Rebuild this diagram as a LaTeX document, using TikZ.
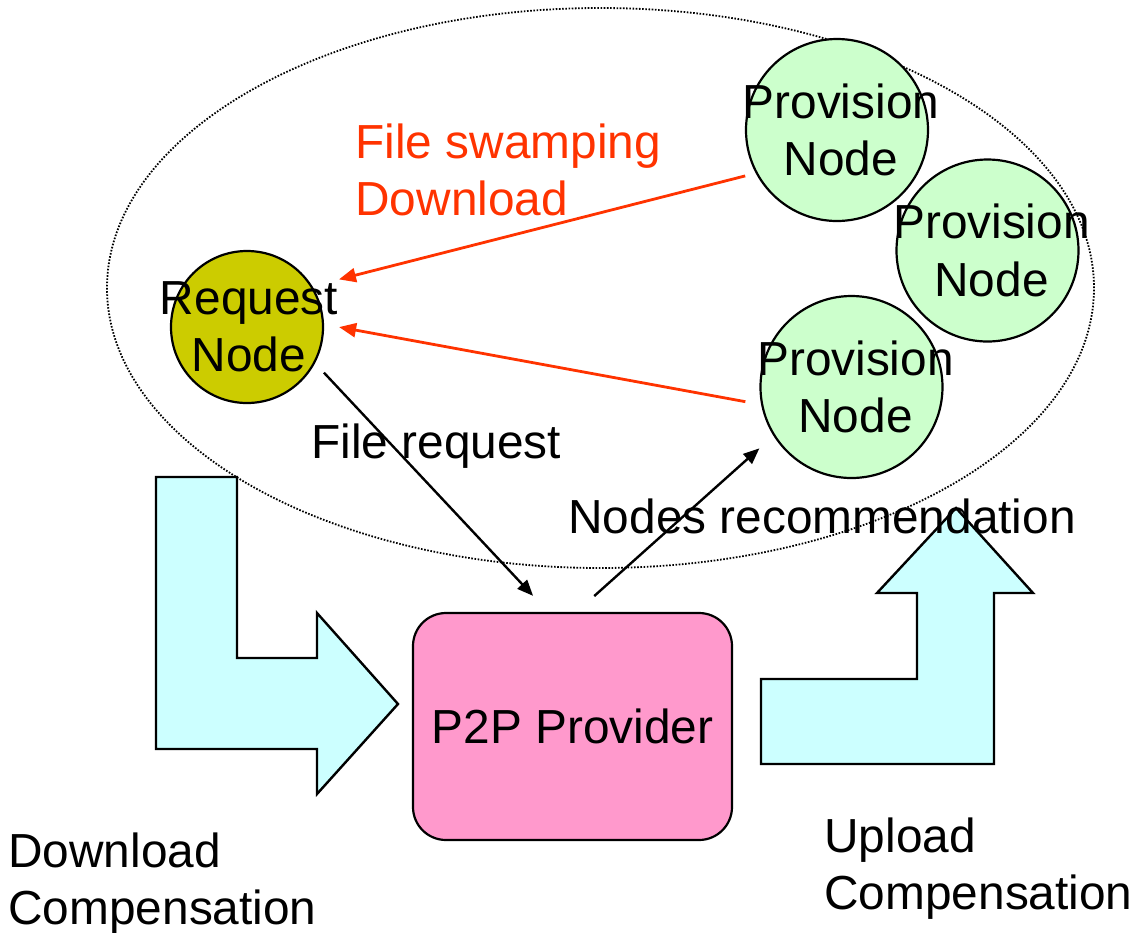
\documentclass[tikz,border=0pt]{standalone}
\usepackage{fontspec}
\setmainfont{Liberation Sans}
\usetikzlibrary{arrows.meta}

\definecolor{nodegreen}{HTML}{CCFFCC}
\definecolor{reqolive}{HTML}{CCCC00}
\definecolor{provpink}{HTML}{FF99CC}
\definecolor{flowcyan}{HTML}{CCFFFF}
\definecolor{swampred}{HTML}{FF3300}

\begin{document}
\begin{tikzpicture}[x=0.5pt, y=-0.5pt,
  every node/.style={font=\fontsize{23.9}{28.6}\selectfont},
  peer/.style={circle, draw=black, line width=1.1pt, inner sep=0pt},
  provnode/.style={peer, fill=nodegreen, minimum size=91pt},
  reqnode/.style={peer, fill=reqolive, minimum size=76pt},
  peerlabel/.style={align=center, inner sep=0pt},
  providerbox/.style={rectangle, rounded corners=16.5pt, draw=black, line width=1.1pt,
    fill=provpink, minimum width=159.5pt, minimum height=113.5pt, inner sep=0pt},
  swamp/.style={draw=swampred, line width=1.4pt, -{Triangle[length=8.5pt,width=7pt]}},
  flow/.style={draw=black, line width=1.2pt, -{Triangle[length=8pt,width=6.5pt]}},
  bentarrow/.style={draw=black, line width=1.2pt, fill=flowcyan, line join=miter},
  swarm/.style={draw=black, line width=0.9pt, dash pattern=on 0.8pt off 0.8pt},
  caption/.style={inner sep=0pt, align=left},
]
\useasboundingbox (0,0) rectangle (1137,933);

% peer group boundary
\draw[swarm] (600.5,288) ellipse [x radius=246.75pt, y radius=140pt];

% compensation flows
\draw[bentarrow] (156,477) -- (237,477) -- (237,658) -- (317,658) -- (317,613)
  -- (398,704) -- (317,794) -- (317,749) -- (156,749) -- cycle;
\draw[bentarrow] (761,764) -- (761,679) -- (917,679) -- (917,593) -- (877,593)
  -- (956,508) -- (1033,593) -- (994,593) -- (994,764) -- cycle;

% peers
\node[reqnode] (req) at (247,327) {};
\node[provnode] (p1) at (837,130) {};
\node[provnode] (p2) at (987.5,250.5) {};
\node[provnode] (p3) at (851.5,387) {};

% provider
\node[providerbox] (prov) at (572.5,726.5) {P2P Provider};

% transfers between peers
\draw[swamp, shorten <=5.4pt, shorten >=13.7pt] (p1.208) -- (req.32);
\draw[swamp, shorten <=8pt, shorten >=7.65pt] (p3.191) -- (req.2);

% request and recommendation
\draw[flow, shorten <=6.45pt, shorten >=11pt] (req.332) -- (prov.102);
\draw[flow, shorten <=11.9pt, shorten >=9.4pt] (prov.88) -- (p3.212);

% peer names
\node[peerlabel] (reqt) at ([xshift=1pt]req) {Request\\Node};
\node[peerlabel] (p1t) at ([xshift=2pt]p1) {Provision\\Node};
\node[peerlabel] (p2t) at ([xshift=2pt]p2) {Provision\\Node};
\node[peerlabel] (p3t) at ([xshift=2pt]p3) {Provision\\Node};

% captions
\node[caption, text=swampred, anchor=north west] (swamptext) at (355,123) {File swamping\\Download};
\node[caption, anchor=base west] (reqtext) at (311,458) {File request};
\node[caption, anchor=base west] (rectext) at (568,533.5) {Nodes recommendation};
\node[caption, anchor=north west] (dltext) at (8,832) {Download\\Compensation};
\node[caption, anchor=north west] (ultext) at (824,817) {Upload\\Compensation};
\end{tikzpicture}
\end{document}
